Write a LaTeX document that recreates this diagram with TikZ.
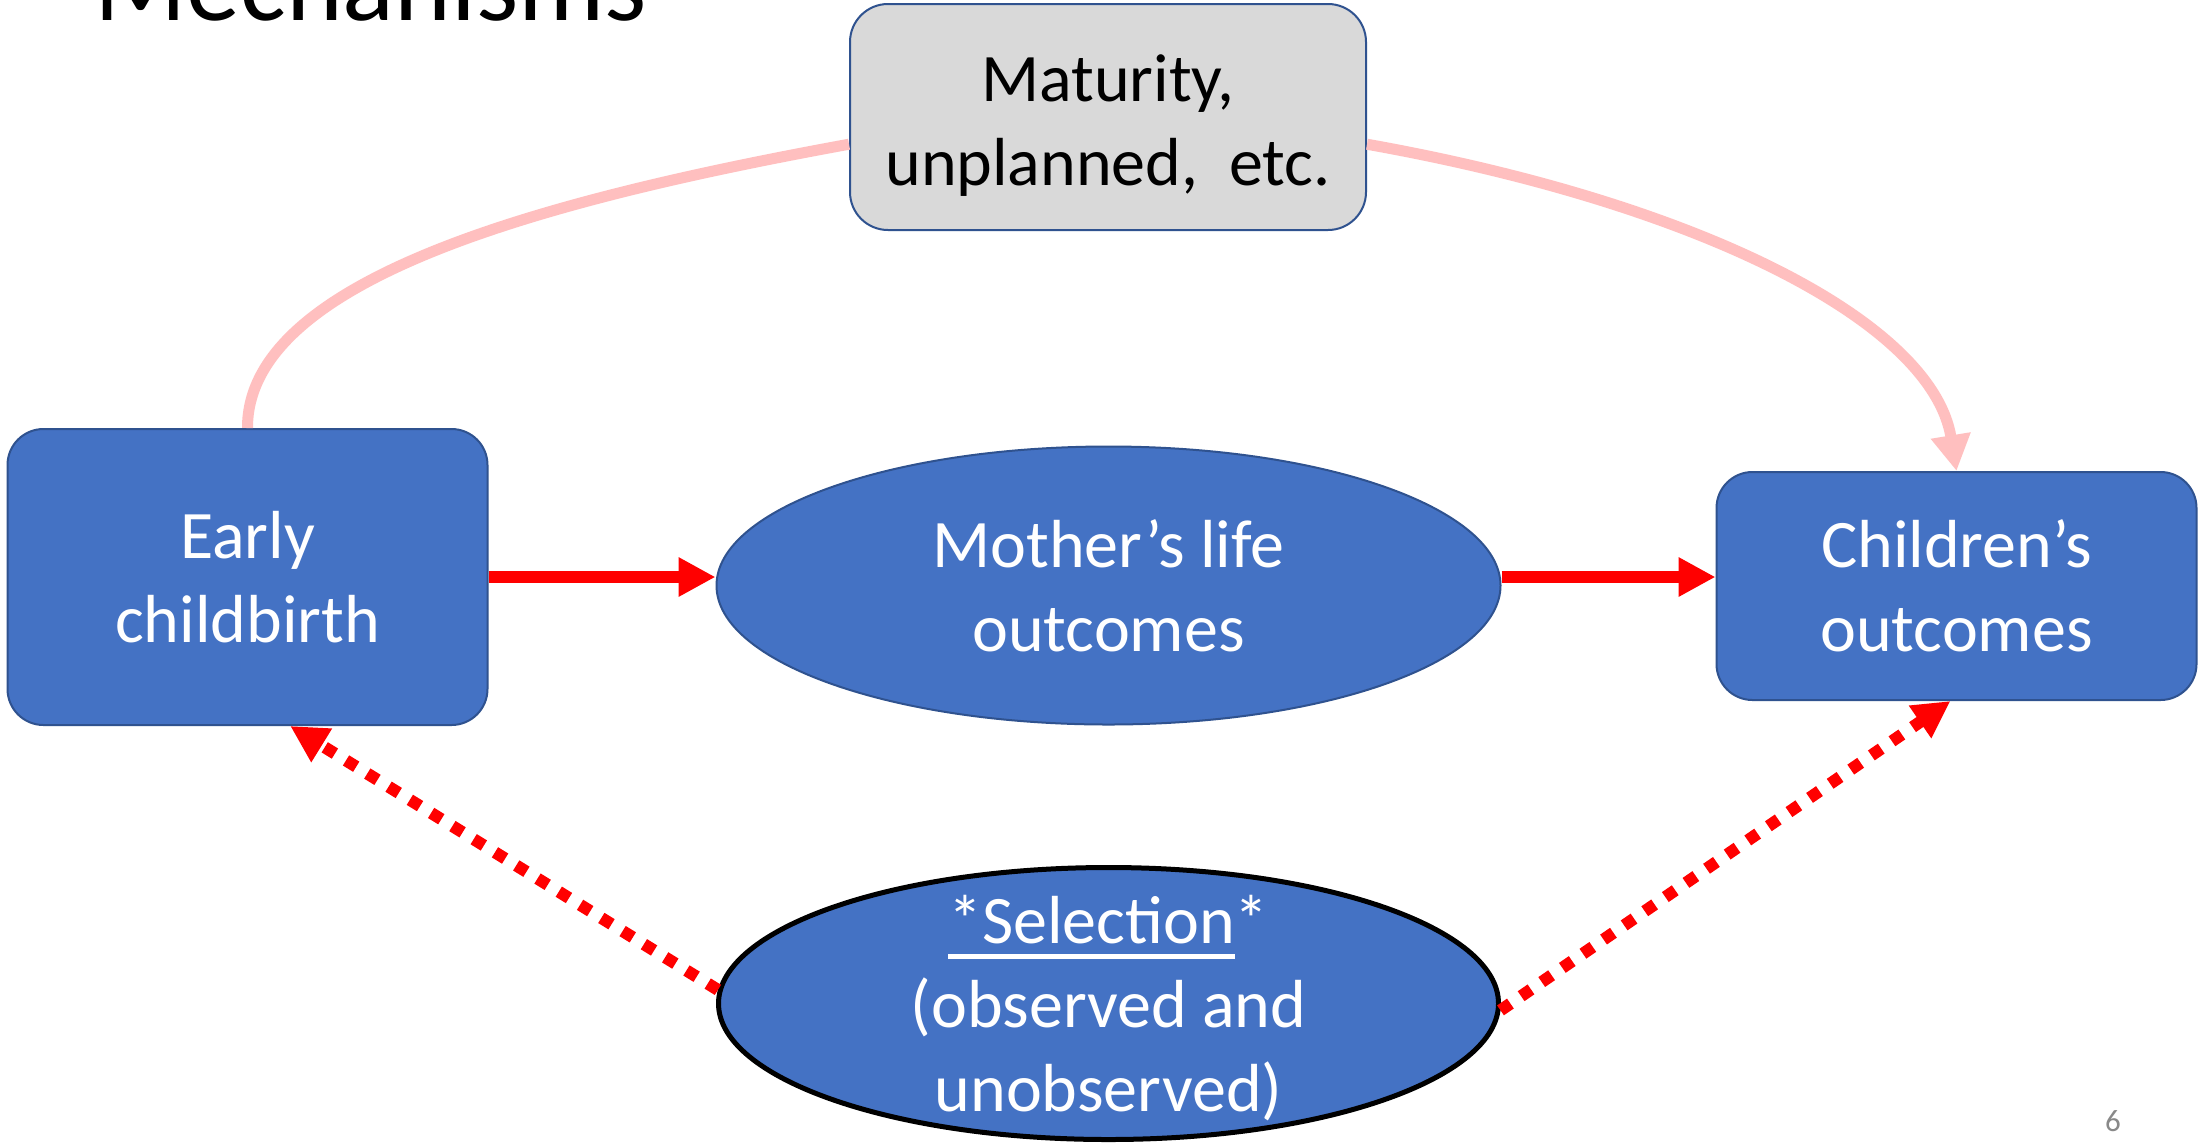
\documentclass[tikz,border=0pt]{standalone}
\usepackage{fontspec}
\setmainfont{Carlito}
\usetikzlibrary{arrows.meta,shapes.geometric,calc}
\definecolor{boxblue}{HTML}{4472C4}
\definecolor{edgeblue}{HTML}{2F528F}
\definecolor{matgray}{HTML}{D9D9D9}
\definecolor{pinkline}{RGB}{255,191,191}
\definecolor{pagegray}{HTML}{898989}
\newcommand{\selul}[1]{\setbox0=\hbox{#1}\leavevmode\rlap{\rule[-7.5pt]{\wd0}{2.5pt}}\box0}
\begin{document}
\begin{tikzpicture}[x=0.5pt,y=-0.5pt,
  maintext/.style={align=center,font=\fontsize{34}{42}\selectfont,inner sep=0pt},
  bluebox/.style={maintext,draw=edgeblue,line width=1pt,fill=boxblue,text=white,rounded corners=18pt,minimum width=240pt},
  blueell/.style={maintext,ellipse,draw=edgeblue,line width=1pt,fill=boxblue,text=white},
  grayboxstyle/.style={maintext,draw=edgeblue,line width=1pt,fill=matgray,text=black,rounded corners=19pt},
  solidarrow/.style={draw=red,line width=6pt,-{Triangle[length=18.5pt,width=18.5pt]}},
  dotarrow/.style={draw=red,line width=6pt,dash pattern=on 6pt off 6.5pt,-{Triangle[length=18.5pt,width=18.5pt]}},
  pinkarc/.style={draw=pinkline,line width=5.5pt},
  pinkarrow/.style={pinkarc,-{Triangle[length=18pt,width=19pt]}}
]
\fill[white] (0,0) rectangle (2198,1147);
\useasboundingbox (0,0) rectangle (2198,1147);

\node[anchor=base west,font=\fontsize{54}{60}\selectfont,inner sep=0pt] (title) at (94,20) {Mechanisms};

\node[grayboxstyle,minimum width=258pt,minimum height=113pt,text height=73pt,text depth=5pt] (mat) at (1108,117) {Maturity,\\unplanned,\ \ etc.};

\node[bluebox,minimum height=148pt] (early) at (247.5,577) {Early\\childbirth};
\node[bluebox,minimum height=114pt] (child) at (1956.5,586) {Children’s\\outcomes};

\node[blueell,minimum width=392pt,minimum height=139pt] (mother) at (1108.5,585.5) {Mother’s life\\outcomes};

\node[blueell,draw=black,line width=2.5pt,minimum width=390pt,minimum height=136pt,text height=108pt,text depth=0pt,inner ysep=-12pt] (sel) at (1108.5,1003.5) {\selul{*Selection}*\\(observed and\\unobserved)};

\node[text=pagegray,font=\fontsize{15.5}{18}\selectfont,inner sep=0pt] (pnum) at (2113,1121) {6};

% solid arrows
\draw[solidarrow] (early.east |- 0,577) -- (mother.west |- 0,577);
\draw[solidarrow] (mother.east |- 0,577) -- (child.west |- 0,577);

% pink curved connections
\draw[pinkarc] (early.north) .. controls (247,278) and (549,199) .. (mat.186);
\draw[pinkarrow] (mat.354) .. controls (1697,203) and (1932,321) .. (child.north);

% dotted arrows
\draw[dotarrow] (sel.178) -- (early.286);
\draw[dotarrow] (sel.359) -- (child.267);
\end{tikzpicture}
\end{document}
